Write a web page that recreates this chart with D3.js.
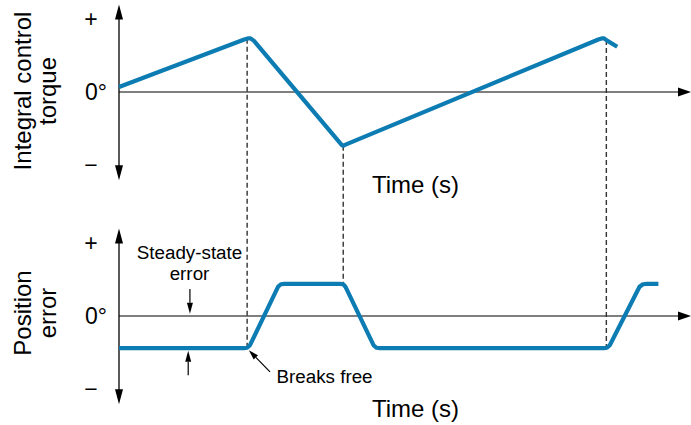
<!DOCTYPE html>
<html><head><meta charset="utf-8">
<script src="https://cdn.jsdelivr.net/npm/d3@7"></script>
<style>html,body{margin:0;padding:0;background:#fff}svg{display:block}</style>
</head><body><svg id="c" width="691" height="425"></svg>
<script>
// ---- data ----
const torqueTime  = [0, 2.19, 2.265, 2.30, 2.36, 3.90, 3.92, 3.95, 8.38, 8.45, 8.48, 8.54, 8.71];
const torqueValue = [0.068, 0.72, 0.736, 0.735, 0.70, -0.73, -0.736, -0.725, 0.72, 0.736, 0.734, 0.70, 0.62];
const errorTime   = [0, 2.19, 2.24, 2.29, 2.78, 2.83, 2.89, 3.86, 3.92, 3.96, 4.45, 4.50, 4.56, 8.48, 8.53, 8.58, 9.10, 9.16, 9.23, 9.43];
const errorValue  = [-0.44, -0.44, -0.435, -0.40, 0.40, 0.435, 0.44, 0.44, 0.435, 0.40, -0.40, -0.435, -0.44, -0.44, -0.435, -0.40, 0.40, 0.435, 0.44, 0.44];
const transitionTimes = [2.24, 3.92, 8.52];
const tickValues = [1, 0, -1];
const tickLabels = ["+", "0°", "−"];
const topAxisLabel = ["Integral control", "torque"];
const bottomAxisLabel = ["Position", "error"];
const xAxisTitle = "Time (s)";
const steadyStateText = ["Steady-state", "error"];
const breaksFreeText = "Breaks free";

// ---- scales ----
const svg = d3.select("#c");
const font = "Liberation Sans, Arial, Helvetica, sans-serif";
const x = d3.scaleLinear().domain([0, 10]).range([119, 691]);
const yTop = d3.scaleLinear().domain([-1, 1]).range([165, 19]);
const yBot = d3.scaleLinear().domain([-1, 1]).range([389, 243]);
const blue = "#0c7cb3";

function panel(y, label, labelCenter) {
  svg.append("line").attr("x1", x(0)).attr("x2", x(10) - 8).attr("y1", y(0)).attr("y2", y(0))
    .attr("stroke", "#000").attr("stroke-width", 1.2);
  svg.append("path").attr("d", `M${x(10)},${y(0)} L${x(10)-13},${y(0)-4.5} L${x(10)-13},${y(0)+4.5}Z`).attr("fill", "#000");
  const yt = y(1.2), yb = y(-1.21), x0 = x(0);
  svg.append("line").attr("x1", x0).attr("x2", x0).attr("y1", yt + 8).attr("y2", yb - 8)
    .attr("stroke", "#000").attr("stroke-width", 1.3);
  svg.append("path").attr("d", `M${x0},${yt} L${x0-4},${yt+15} L${x0+4},${yt+15}Z`).attr("fill", "#000");
  svg.append("path").attr("d", `M${x0},${yb} L${x0-4},${yb-15} L${x0+4},${yb-15}Z`).attr("fill", "#000");
  tickValues.forEach((v, i) => {
    svg.append("text").attr("x", i === 1 ? 96 : 91).attr("y", y(v)).attr("dy", "0.36em")
      .attr("text-anchor", "middle").attr("font-family", font).attr("font-size", 23).text(tickLabels[i]);
  });
  const g = svg.append("g").attr("transform", `translate(0,${labelCenter}) rotate(-90)`);
  label.forEach((t, i) => {
    g.append("text").attr("x", 0).attr("y", 31 + i * 24.5).attr("text-anchor", "middle")
      .attr("font-family", font).attr("font-size", 24).text(t);
  });
}
panel(yTop, topAxisLabel, 91);
panel(yBot, bottomAxisLabel, 313);

// dashed transition lines
const topVal = t => d3.scaleLinear().domain(torqueTime).range(torqueValue)(t);
const botVal = t => d3.scaleLinear().domain(errorTime).range(errorValue)(t);
transitionTimes.forEach(t => {
  svg.append("line").attr("x1", x(t)).attr("x2", x(t))
    .attr("y1", yTop(topVal(t))).attr("y2", yBot(botVal(t)))
    .attr("stroke", "#333").attr("stroke-width", 1.4).attr("stroke-dasharray", "5,3");
});

// curves
const line = (y) => d3.line().x(d => x(d[0])).y(d => y(d[1])).curve(d3.curveLinear);
svg.append("path").datum(torqueTime.map((t, i) => [t, torqueValue[i]]))
  .attr("d", line(yTop)).attr("fill", "none").attr("stroke", blue).attr("stroke-width", 4.2).attr("stroke-linejoin", "round");
svg.append("path").datum(errorTime.map((t, i) => [t, errorValue[i]]))
  .attr("d", line(yBot)).attr("fill", "none").attr("stroke", blue).attr("stroke-width", 4.2).attr("stroke-linejoin", "round");

// time titles
[193, 416.5].forEach(by => {
  svg.append("text").attr("x", 372).attr("y", by).attr("font-family", font).attr("font-size", 24).text(xAxisTitle);
});

// steady-state annotation
steadyStateText.forEach((t, i) => {
  svg.append("text").attr("x", 189.5).attr("y", 259 + i * 21).attr("text-anchor", "middle")
    .attr("font-family", font).attr("font-size", 18.8).text(t);
});
function arrow(x1, y1, x2, y2, w, l) {
  const a = Math.atan2(y2 - y1, x2 - x1);
  const bx = x2 - l * Math.cos(a), by = y2 - l * Math.sin(a);
  svg.append("line").attr("x1", x1).attr("y1", y1).attr("x2", bx).attr("y2", by).attr("stroke", "#000").attr("stroke-width", 1.2);
  const px = -Math.sin(a) * w, py = Math.cos(a) * w;
  svg.append("path").attr("d", `M${x2},${y2} L${bx+px},${by+py} L${bx-px},${by-py}Z`).attr("fill", "#000");
}
const xa = x(1.24), xb = x(1.21);
arrow(xa, yBot(0.37), xa, yBot(0.03), 3, 11);
arrow(xb, yBot(-0.81), xb, yBot(-0.475), 3, 11);

// breaks free annotation
arrow(x(2.64), yBot(-0.765), x(2.27), yBot(-0.47), 3, 10);
svg.append("text").attr("x", 276.5).attr("y", 383).attr("font-family", font).attr("font-size", 18.8).text(breaksFreeText);
</script></body></html>
